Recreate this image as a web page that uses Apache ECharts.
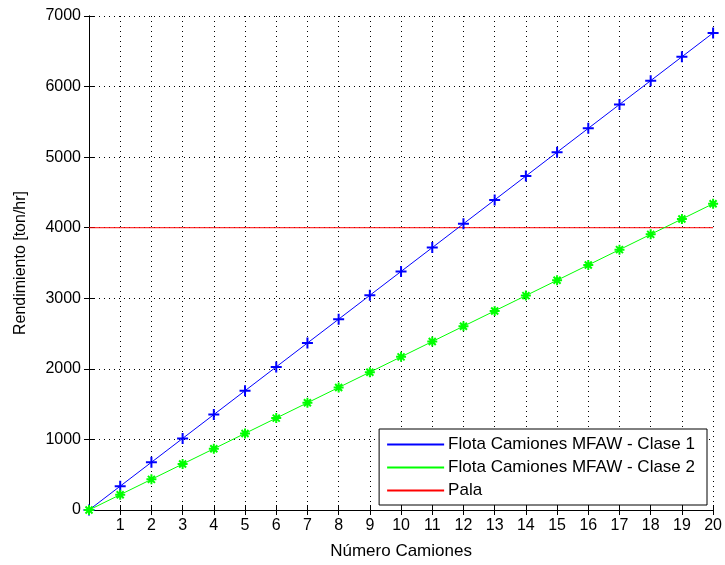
<!DOCTYPE html>
<html>
<head>
<meta charset="utf-8">
<script src="https://cdn.jsdelivr.net/npm/echarts@6/dist/echarts.min.js"></script>
<style>
  html, body { margin: 0; padding: 0; background: #fff; }
  #chart { width: 725px; height: 565px; }
</style>
</head>
<body>
<div id="chart"></div>
<script>
// numero de camiones
const camiones = [0, 1, 2, 3, 4, 5, 6, 7, 8, 9, 10, 11, 12, 13, 14, 15, 16, 17, 18, 19, 20];
// rendimiento [ton/hr]
const clase1 = [0, 338, 676, 1014, 1352, 1690, 2028, 2366, 2704, 3042, 3380, 3718, 4056, 4394, 4732, 5070, 5408, 5746, 6084, 6422, 6760];
const clase2 = [0, 217, 434, 651, 868, 1085, 1302, 1519, 1736, 1953, 2170, 2387, 2604, 2821, 3038, 3255, 3472, 3689, 3906, 4123, 4340];
const pala = [4000, 4000, 4000, 4000, 4000, 4000, 4000, 4000, 4000, 4000, 4000, 4000, 4000, 4000, 4000, 4000, 4000, 4000, 4000, 4000, 4000];
const nombres = ['Flota Camiones MFAW - Clase 1', 'Flota Camiones MFAW - Clase 2', 'Pala'];
const colores = ['#0000ff', '#00ff00', '#ff0000'];

const font = '"Liberation Sans", Arial, sans-serif';
const plusSym = 'path://M-1,0 L1,0 M0,-1 L0,1';
const starSym = 'path://M-1,0 L1,0 M0,-1 L0,1 M-0.7,-0.7 L0.7,0.7 M-0.7,0.7 L0.7,-0.7';

const pairs = (ys) => camiones.map((x, i) => [x, ys[i]]);

const chart = echarts.init(document.getElementById('chart'));

const dotted = { show: true, lineStyle: { color: '#000', type: [1, 4], width: 1 } };
const ticksIn = { show: true, inside: true, length: 5, lineStyle: { color: '#000' } };

chart.setOption({
  animation: false,
  grid: { left: 89, right: 11, top: 16, bottom: 53, show: false },
  legend: {
    orient: 'vertical',
    right: 18,
    bottom: 60,
    backgroundColor: '#fff',
    borderColor: '#000',
    borderWidth: 1,
    padding: [7, 12, 6, 8],
    itemGap: 6,
    itemWidth: 57,
    itemHeight: 2,
    icon: 'rect',
    textStyle: { fontFamily: font, fontSize: 17, color: '#000', padding: [0, 0, 0, -1] },
    data: nombres.map((n, i) => ({ name: n, itemStyle: { color: colores[i], borderWidth: 0 } }))
  },
  xAxis: [{
    type: 'value',
    min: 0,
    max: 20,
    interval: 1,
    name: 'Número Camiones',
    nameLocation: 'middle',
    nameGap: 33,
    nameTextStyle: { fontFamily: font, fontSize: 17, color: '#000' },
    axisLine: { show: true, onZero: false, lineStyle: { color: '#000', width: 1 } },
    axisTick: ticksIn,
    axisLabel: {
      fontFamily: font, fontSize: 16, color: '#000', margin: 8,
      formatter: (v) => (v === 0 ? '' : String(v))
    },
    splitLine: dotted
  }, {
    type: 'value',
    position: 'top',
    min: 0,
    max: 20,
    interval: 1,
    axisLine: { show: true, lineStyle: { color: '#000', width: 1 } },
    axisTick: ticksIn,
    axisLabel: { show: false },
    splitLine: { show: false }
  }],
  yAxis: [{
    type: 'value',
    min: 0,
    max: 7000,
    interval: 1000,
    name: 'Rendimiento [ton/hr]',
    nameLocation: 'middle',
    nameGap: 60,
    nameTextStyle: { fontFamily: font, fontSize: 16, color: '#000' },
    axisLine: { show: true, onZero: false, lineStyle: { color: '#000', width: 1 } },
    axisTick: ticksIn,
    axisLabel: {
      fontFamily: font, fontSize: 16, color: '#000', margin: 8,
      formatter: (v) => String(v)
    },
    splitLine: dotted
  }, {
    type: 'value',
    position: 'right',
    min: 0,
    max: 7000,
    interval: 1000,
    axisLine: { show: true, lineStyle: { color: '#000', width: 1 } },
    axisTick: ticksIn,
    axisLabel: { show: false },
    splitLine: { show: false }
  }],
  series: [{
    name: nombres[0],
    type: 'line',
    data: pairs(clase1),
    symbol: plusSym,
    symbolSize: 11,
    color: colores[0],
    lineStyle: { width: 1, color: colores[0] },
    itemStyle: { color: 'none', borderColor: colores[0], borderWidth: 2 },
    z: 4
  }, {
    name: nombres[1],
    type: 'line',
    data: pairs(clase2),
    symbol: starSym,
    symbolSize: 10,
    color: colores[1],
    lineStyle: { width: 1, color: colores[1] },
    itemStyle: { color: 'none', borderColor: colores[1], borderWidth: 2 },
    z: 4
  }, {
    name: nombres[2],
    type: 'line',
    data: pairs(pala),
    symbol: 'none',
    color: colores[2],
    lineStyle: { width: 1, color: colores[2] },
    z: 3
  }]
});
</script>
</body>
</html>
